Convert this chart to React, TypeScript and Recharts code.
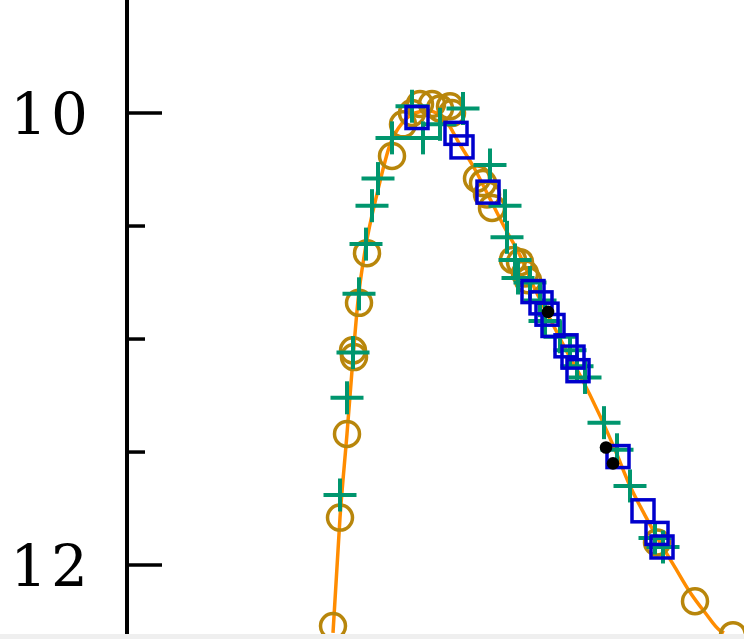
import { ComposedChart, Line, Scatter, XAxis, YAxis } from 'recharts'

// light curve, magnitudes (fainter = down)
const modelT = [20.6, 21.3, 22.0, 22.5, 23.1, 23.8, 25.1, 26.3, 27.6, 28.8, 30.1, 31.8, 33.3, 34.8, 36.3, 37.8, 39.3, 40.8, 42.3, 43.8, 45.3, 47.3, 48.8, 50.3, 51.8, 53.3, 54.8, 56.3, 57.8, 59.3, 59.7]
const modelMag = [12.30, 11.79, 11.42, 11.14, 10.83, 10.61, 10.34, 10.14, 10.04, 10.00, 9.99, 10.03, 10.14, 10.25, 10.38, 10.51, 10.63, 10.78, 10.91, 11.04, 11.16, 11.34, 11.49, 11.65, 11.78, 11.90, 12.01, 12.12, 12.21, 12.29, 12.30]

const circT = [20.6, 21.3, 22.0, 22.6, 22.7, 23.2, 24.0, 26.5, 27.6, 28.5, 29.3, 30.5, 31.3, 32.3, 32.5, 35.0, 35.6, 36.0, 36.5, 38.6, 39.3, 39.8, 40.1, 53.0, 56.8, 60.6]
const circMag = [12.27, 11.79, 11.42, 11.05, 11.08, 10.84, 10.62, 10.19, 10.05, 10.00, 9.96, 9.96, 9.98, 9.97, 10.00, 10.29, 10.31, 10.36, 10.42, 10.65, 10.66, 10.71, 10.74, 11.90, 12.16, 12.31]

const plusT = [21.3, 22.0, 22.6, 23.2, 23.9, 24.5, 25.1, 26.5, 28.5, 29.6, 31.3, 33.6, 36.3, 37.8, 38.0, 38.8, 39.1, 40.3, 41.3, 41.8, 43.3, 44.3, 45.0, 45.8, 47.7, 49.0, 50.3, 52.8, 53.6]
const plusMag = [11.69, 11.26, 11.06, 10.80, 10.58, 10.41, 10.29, 10.11, 9.97, 10.11, 10.05, 9.98, 10.23, 10.41, 10.55, 10.65, 10.73, 10.75, 10.83, 10.92, 10.99, 11.05, 11.12, 11.17, 11.37, 11.49, 11.65, 11.88, 11.92]

const sqT = [29.0, 32.9, 33.5, 36.1, 40.6, 41.4, 42.0, 42.6, 43.9, 44.6, 45.1, 49.1, 51.6, 53.0, 53.5]
const sqMag = [10.02, 10.09, 10.15, 10.35, 10.79, 10.84, 10.89, 10.94, 11.03, 11.08, 11.14, 11.52, 11.76, 11.86, 11.92]

const dotT = [42.1, 47.9, 48.6]
const dotMag = [10.88, 11.48, 11.55]

const yTicks = [10, 10.5, 11, 11.5, 12]
const majorTicks = [10, 12]

const zip = (t: number[], m: number[]) => t.map((v, i) => ({ t: v, mag: m[i] }))

const C = { orange: '#FF8C00', gold: '#B8860B', green: '#00966E', blue: '#0000CD' }

function Tick({ x, y, payload }: any) {
  const major = majorTicks.includes(payload.value)
  return (
    <g>
      <line x1={x} x2={x + (major ? 35 : 18)} y1={y} y2={y} stroke="#000" strokeWidth={3.5} />
      {major && (
        <text x={x - 35} y={y} dy={21} textAnchor="end" fontFamily="'DejaVu Serif', serif" fontSize={58} letterSpacing={4} fill="#000">
          {payload.value}
        </text>
      )}
    </g>
  )
}

const circle = (p: any) => <circle cx={p.cx} cy={p.cy} r={12.5} fill="none" stroke={C.gold} strokeWidth={3.5} />
const plus = (p: any) => (
  <g stroke={C.green} strokeWidth={4}>
    <line x1={p.cx - 16.5} x2={p.cx + 16.5} y1={p.cy} y2={p.cy} />
    <line x1={p.cx} x2={p.cx} y1={p.cy - 16.5} y2={p.cy + 16.5} />
  </g>
)
const square = (p: any) => <rect x={p.cx - 11} y={p.cy - 11} width={22} height={22} fill="none" stroke={C.blue} strokeWidth={3.5} />
const dot = (p: any) => <circle cx={p.cx} cy={p.cy} r={6.3} fill="#000" />

export default function App() {
  return (
    <div style={{ position: 'fixed', left: 0, top: 0, width: 744, height: 639, background: '#fff' }}>
      <ComposedChart width={744} height={634} margin={{ top: 0, right: 0, bottom: 0, left: 0 }}>
        <XAxis type="number" dataKey="t" domain={[0, 61.7]} allowDataOverflow hide />
        <YAxis type="number" dataKey="mag" domain={[9.5, 12.305]} reversed allowDataOverflow width={127}
          ticks={yTicks} interval={0} tickSize={0} tickMargin={0} tickLine={false}
          axisLine={{ stroke: '#000', strokeWidth: 4 }} tick={<Tick />} />
        <Scatter data={zip(circT, circMag)} shape={circle} isAnimationActive={false} />
        <Line data={zip(modelT, modelMag)} dataKey="mag" type="monotone" stroke={C.orange} strokeWidth={3.5} dot={false} isAnimationActive={false} />
        <Scatter data={zip(plusT, plusMag)} shape={plus} isAnimationActive={false} />
        <Scatter data={zip(sqT, sqMag)} shape={square} isAnimationActive={false} />
        <Scatter data={zip(dotT, dotMag)} shape={dot} isAnimationActive={false} />
      </ComposedChart>
      <div style={{ height: 5, background: '#efefef' }} />
    </div>
  )
}
